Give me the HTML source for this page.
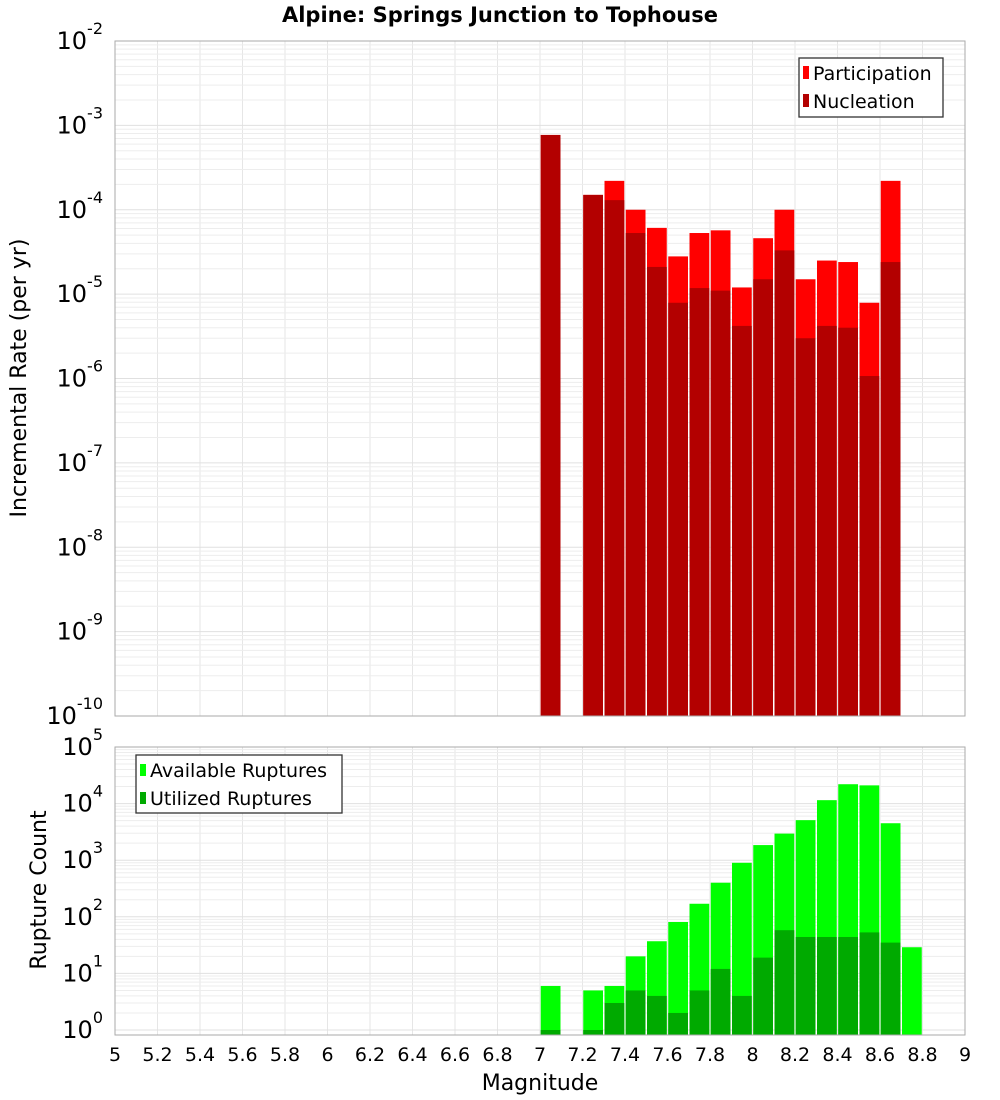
<!DOCTYPE html>
<html><head><meta charset="utf-8">
<style>
html,body{margin:0;padding:0;background:#fff;}
svg{display:block;font-family:"Liberation Sans","DejaVu Sans",sans-serif;}
</style></head>
<body>
<svg id="chart" width="1000" height="1100" viewBox="0 0 1000 1100" xmlns="http://www.w3.org/2000/svg">
<text x="500" y="22" text-anchor="middle" font-size="21" font-weight="bold" font-family="DejaVu Sans, sans-serif">Alpine: Springs Junction to Tophouse</text>
<text transform="translate(26,378) rotate(-90)" text-anchor="middle" font-size="22" font-family="DejaVu Sans, sans-serif">Incremental Rate (per yr)</text>
<text transform="translate(46,890) rotate(-90)" text-anchor="middle" font-size="22" font-family="DejaVu Sans, sans-serif">Rupture Count</text>
<text x="540" y="1090" text-anchor="middle" font-size="22" font-family="DejaVu Sans, sans-serif">Magnitude</text>
<g id="top"></g><g id="bot"></g><g id="xt"></g>
<g>
<rect x="799" y="58" width="144" height="59" fill="#fff" stroke="#333" stroke-width="1.3"/>
<rect x="803" y="66" width="6" height="13" fill="#ff0000"/>
<text x="813" y="80" font-size="19" font-family="DejaVu Sans, sans-serif">Participation</text>
<rect x="803" y="94" width="6" height="13" fill="#b30000"/>
<text x="813" y="108" font-size="19" font-family="DejaVu Sans, sans-serif">Nucleation</text>
</g>
<g>
<rect x="136" y="755" width="206" height="58" fill="#fff" stroke="#333" stroke-width="1.3"/>
<rect x="140" y="764" width="6" height="12" fill="#00ff00"/>
<text x="150" y="777" font-size="19" font-family="DejaVu Sans, sans-serif">Available Ruptures</text>
<rect x="140" y="792" width="6" height="12" fill="#00aa00"/>
<text x="150" y="805" font-size="19" font-family="DejaVu Sans, sans-serif">Utilized Ruptures</text>
</g>
</svg>
<script>
const topMags=[7.05,7.25,7.35,7.45,7.55,7.65,7.75,7.85,7.95,8.05,8.15,8.25,8.35,8.45,8.55,8.65];
const participation=[7.7e-4,1.5e-4,2.2e-4,1.0e-4,6.1e-5,2.8e-5,5.3e-5,5.7e-5,1.2e-5,4.6e-5,1.0e-4,1.5e-5,2.5e-5,2.4e-5,7.9e-6,2.2e-4];
const nucleation=[7.7e-4,1.5e-4,1.3e-4,5.3e-5,2.1e-5,7.9e-6,1.18e-5,1.1e-5,4.2e-6,1.5e-5,3.3e-5,3.0e-6,4.2e-6,4.0e-6,1.07e-6,2.4e-5];
const botMags=[7.05,7.25,7.35,7.45,7.55,7.65,7.75,7.85,7.95,8.05,8.15,8.25,8.35,8.45,8.55,8.65,8.75];
const available=[6,5,6,20,37,81,170,400,900,1850,2950,5100,11500,22000,21000,4500,29];
const utilized=[1,1,3,5,4,2,5,12,4,19,58,44,44,44,53,35,0];
const xTicks=[5,5.2,5.4,5.6,5.8,6,6.2,6.4,6.6,6.8,7,7.2,7.4,7.6,7.8,8,8.2,8.4,8.6,8.8,9];
const topExps=[-10,-9,-8,-7,-6,-5,-4,-3,-2];
const botExps=[0,1,2,3,4,5];

const NS="http://www.w3.org/2000/svg";
const X0=115,X1=965;
const xs=m=>X0+(m-5)*(X1-X0)/4;
const yTop=v=>41+(-2-Math.log10(v))*84.375;
const yBot=v=>1030-Math.log10(v)*56.6;
function mk(tag,attrs,parent){const e=document.createElementNS(NS,tag);for(const k in attrs)e.setAttribute(k,attrs[k]);parent.appendChild(e);return e;}

function panel(g,y0,y1,yf,exps,name){
  mk('rect',{x:X0,y:y0,width:X1-X0,height:y1-y0,fill:'#fff'},g);
  for(const t of xTicks){const l=mk('line',{x1:xs(t),x2:xs(t),y1:y0,y2:y1,stroke:'#e6e6e6','stroke-width':1},g);
  
  }
  for(let i=0;i<exps.length;i++){const e=exps[i];
    for(let k=1;k<10;k++){const y=yf(k*Math.pow(10,e));if(y<y0-0.5||y>y1+0.5)continue;
      const l=mk('line',{x1:X0,x2:X1,y1:y,y2:y,stroke:k==1?'#e0e0e0':'#ededed','stroke-width':1},g);
      
      }
    const y=yf(Math.pow(10,e));
    const t=mk('text',{x:103,y:y+8,'text-anchor':'end','font-size':24,'font-family':'DejaVu Sans, sans-serif'},g);
    
    
    t.textContent='10';
    const s=mk('tspan',{dy:-15,'font-size':16},t);s.textContent=String(e);
  }
}
const gt=document.getElementById('top'),gb=document.getElementById('bot');
panel(gt,41,716,yTop,topExps,'top');
panel(gb,747,1035,yBot,botExps,'bottom');
const bw=(X1-X0)/40-1.5;
function bars(g,mags,vals,yf,base,color,name){
  for(let i=0;i<mags.length;i++){if(!(vals[i]>0))continue;
    const x=xs(mags[i]-0.05)+0.75,y=Math.max(yf(vals[i]),0);
    const r=mk('rect',{x:x,y:y,width:bw,height:Math.max(base-y,0),fill:color,stroke:'#ffb0b0','stroke-width':0},g);
    
    }
}
bars(gt,topMags,participation,yTop,716,'#ff0000','participation');
bars(gt,topMags,nucleation,yTop,716,'#b30000','nucleation');
bars(gb,botMags,available,yBot,1035,'#00ff00','available');
bars(gb,botMags,utilized,yBot,1035,'#00aa00','utilized');
mk('rect',{x:X0,y:41,width:X1-X0,height:675,fill:'none',stroke:'#aaa','stroke-width':1},gt);
mk('rect',{x:X0,y:747,width:X1-X0,height:288,fill:'none',stroke:'#aaa','stroke-width':1},gb);
const gx=document.getElementById('xt');
for(const t of xTicks){const e=mk('text',{x:xs(t),y:1061,'text-anchor':'middle','font-size':19,'font-family':'DejaVu Sans, sans-serif'},gx);
  
  
  e.textContent=String(t);}
</script>
</body></html>
